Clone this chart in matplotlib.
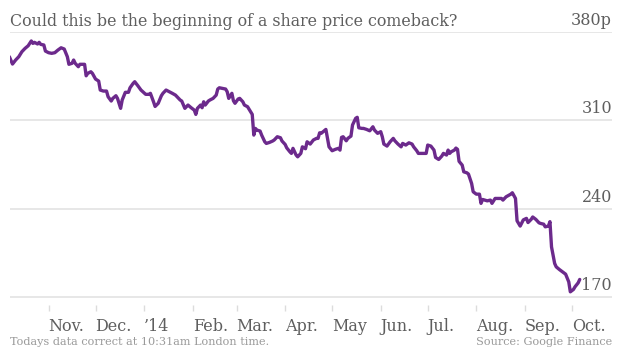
import matplotlib
matplotlib.use("Agg")
import matplotlib.pyplot as plt
import matplotlib.dates as mdates
import matplotlib.transforms as mtransforms
import pandas as pd

# Closing share price (pence), Oct 2013 - Oct 2014
dates = [
    "2013-10-07", "2013-10-09", "2013-10-11", "2013-10-13", "2013-10-15", "2013-10-17",
    "2013-10-19", "2013-10-21", "2013-10-22", "2013-10-23", "2013-10-25", "2013-10-26",
    "2013-10-27", "2013-10-29", "2013-10-30", "2013-11-01", "2013-11-03", "2013-11-05",
    "2013-11-07", "2013-11-09", "2013-11-11", "2013-11-13", "2013-11-14", "2013-11-16",
    "2013-11-17", "2013-11-18", "2013-11-20", "2013-11-21", "2013-11-24", "2013-11-25",
    "2013-11-26", "2013-11-28", "2013-11-29", "2013-12-01", "2013-12-02", "2013-12-03",
    "2013-12-04", "2013-12-06", "2013-12-08", "2013-12-09", "2013-12-11", "2013-12-12",
    "2013-12-14", "2013-12-15", "2013-12-17", "2013-12-18", "2013-12-20", "2013-12-22",
    "2013-12-23", "2013-12-25", "2013-12-26", "2013-12-28", "2013-12-30", "2014-01-02",
    "2014-01-04", "2014-01-05", "2014-01-07", "2014-01-08", "2014-01-10", "2014-01-12",
    "2014-01-13", "2014-01-15", "2014-01-17", "2014-01-19", "2014-01-21", "2014-01-23",
    "2014-01-24", "2014-01-25", "2014-01-27", "2014-01-29", "2014-01-31", "2014-02-02",
    "2014-02-03", "2014-02-04", "2014-02-06", "2014-02-07", "2014-02-08", "2014-02-09",
    "2014-02-11", "2014-02-12", "2014-02-14", "2014-02-16", "2014-02-17", "2014-02-18",
    "2014-02-20", "2014-02-22", "2014-02-23", "2014-02-24", "2014-02-26", "2014-02-27",
    "2014-02-28", "2014-03-02", "2014-03-03", "2014-03-05", "2014-03-06", "2014-03-08",
    "2014-03-10", "2014-03-11", "2014-03-12", "2014-03-13", "2014-03-14", "2014-03-16",
    "2014-03-17", "2014-03-19", "2014-03-20", "2014-03-22", "2014-03-24", "2014-03-25",
    "2014-03-27", "2014-03-29", "2014-03-30", "2014-04-01", "2014-04-02", "2014-04-04",
    "2014-04-05", "2014-04-06", "2014-04-08", "2014-04-09", "2014-04-11", "2014-04-12",
    "2014-04-14", "2014-04-15", "2014-04-17", "2014-04-19", "2014-04-21", "2014-04-22",
    "2014-04-23", "2014-04-24", "2014-04-26", "2014-04-27", "2014-04-29", "2014-05-01",
    "2014-05-03", "2014-05-05", "2014-05-06", "2014-05-07", "2014-05-08", "2014-05-10",
    "2014-05-11", "2014-05-13", "2014-05-14", "2014-05-16", "2014-05-17", "2014-05-18",
    "2014-05-20", "2014-05-21", "2014-05-23", "2014-05-25", "2014-05-27", "2014-05-28",
    "2014-05-30", "2014-06-01", "2014-06-02", "2014-06-03", "2014-06-05", "2014-06-07",
    "2014-06-09", "2014-06-10", "2014-06-12", "2014-06-14", "2014-06-15", "2014-06-17",
    "2014-06-19", "2014-06-21", "2014-06-22", "2014-06-24", "2014-06-25", "2014-06-27",
    "2014-06-30", "2014-07-01", "2014-07-03", "2014-07-05", "2014-07-06", "2014-07-08",
    "2014-07-10", "2014-07-11", "2014-07-13", "2014-07-14", "2014-07-15", "2014-07-16",
    "2014-07-18", "2014-07-19", "2014-07-20", "2014-07-21", "2014-07-23", "2014-07-24",
    "2014-07-26", "2014-07-27", "2014-07-29", "2014-07-30", "2014-08-01", "2014-08-03",
    "2014-08-04", "2014-08-05", "2014-08-08", "2014-08-10", "2014-08-11", "2014-08-13",
    "2014-08-15", "2014-08-17", "2014-08-18", "2014-08-20", "2014-08-23", "2014-08-24",
    "2014-08-26", "2014-08-27", "2014-08-28", "2014-08-29", "2014-08-31", "2014-09-02",
    "2014-09-03", "2014-09-05", "2014-09-06", "2014-09-08", "2014-09-10", "2014-09-11",
    "2014-09-13", "2014-09-14", "2014-09-16", "2014-09-17", "2014-09-18", "2014-09-20",
    "2014-09-21", "2014-09-23", "2014-09-25", "2014-09-27", "2014-09-29", "2014-09-30",
    "2014-10-02", "2014-10-03", "2014-10-05", "2014-10-06",
]

prices = [
    360.4, 354.6, 357.8, 360.4, 364.4, 367.0,
    369.1, 372.9, 371.0, 371.8, 370.5, 371.8,
    370.2, 369.7, 364.9, 363.6, 363.1, 363.6,
    365.7, 367.5, 366.5, 360.4, 354.4, 355.2,
    357.8, 355.2, 352.5, 354.4, 354.4, 345.3,
    347.2, 348.5, 347.2, 342.7, 341.9, 341.1,
    334.0, 333.2, 333.2, 328.7, 325.3, 327.4,
    329.5, 327.4, 319.5, 326.1, 332.2, 332.2,
    335.8, 339.3, 340.6, 337.4, 334.0, 330.6,
    330.6, 331.4, 324.7, 321.0, 323.5, 329.5,
    331.4, 334.0, 332.7, 331.4, 330.0, 327.4,
    326.1, 325.3, 319.5, 322.1, 320.0, 318.1,
    314.7, 319.5, 322.1, 320.0, 324.7, 322.1,
    325.3, 326.1, 327.4, 330.0, 334.8, 335.8,
    335.3, 334.8, 332.7, 327.4, 331.4, 325.5,
    323.5, 326.9, 327.4, 324.7, 322.1, 320.8,
    316.8, 314.7, 298.3, 303.6, 302.3, 301.5,
    298.3, 293.0, 291.7, 292.5, 293.6, 294.4,
    297.0, 296.2, 293.6, 290.9, 288.2, 285.1,
    283.8, 287.8, 282.5, 281.1, 283.8, 289.0,
    287.5, 293.0, 291.2, 294.4, 295.7, 295.7,
    300.1, 299.7, 301.7, 302.8, 289.0, 285.9,
    287.0, 287.8, 286.4, 296.5, 297.0, 293.8,
    295.7, 297.5, 306.3, 311.6, 312.4, 304.1,
    303.6, 303.6, 302.8, 301.7, 304.9, 302.3,
    299.7, 301.0, 297.0, 291.2, 289.6, 293.0,
    295.7, 293.8, 291.2, 289.0, 291.7, 290.4,
    292.2, 291.2, 289.0, 285.9, 283.8, 283.8,
    283.8, 290.4, 289.6, 286.4, 280.6, 279.0,
    281.7, 283.8, 282.5, 286.4, 283.8, 285.1,
    286.4, 288.0, 287.0, 277.5, 274.5, 269.2,
    268.4, 267.4, 260.0, 253.4, 251.5, 251.5,
    244.2, 247.3, 246.2, 246.8, 244.2, 248.1,
    248.1, 248.1, 246.8, 249.4, 251.5, 252.6,
    248.1, 230.4, 228.3, 226.2, 231.1, 232.3,
    229.0, 231.5, 233.4, 231.5, 228.8, 228.3,
    227.7, 225.6, 226.2, 229.7, 209.7, 196.6,
    193.9, 191.8, 189.9, 188.1, 182.0, 174.1,
    176.0, 178.1, 181.2, 183.9,
]

month_starts = ["2013-11-01", "2013-12-01", "2014-01-01", "2014-02-01", "2014-03-01",
                "2014-04-01", "2014-05-01", "2014-06-01", "2014-07-01", "2014-08-01",
                "2014-09-01", "2014-10-01"]
month_labels = ["Nov.", "Dec.", "\u201914", "Feb.", "Mar.", "Apr.", "May", "Jun.",
                "Jul.", "Aug.", "Sep.", "Oct."]

y_ticks = [170, 240, 310, 380]
y_tick_labels = ["170", "240", "310", "380p"]

title = "Could this be the beginning of a share price comeback?"
note = "Todays data correct at 10:31am London time."
source = "Source: Google Finance"

LINE = "#6c2a8c"
GRID = "#e5e5e5"
TEXT = "#5e5e5e"
SERIF = ["DejaVu Serif"]

W, H = 620, 349
fig = plt.figure(figsize=(W / 100, H / 100), dpi=100)
fig.patch.set_facecolor("white")

# plot area in pixel terms
left, right, top, bottom = 10, 612, 32, 311
ax = fig.add_axes([left / W, 1 - bottom / H, (right - left) / W, (bottom - top) / H])

x = pd.to_datetime(dates)
ax.plot(x, prices, color=LINE, lw=2.4, solid_joinstyle="round", solid_capstyle="round",
        zorder=3)

start = pd.Timestamp("2013-11-01")
ax.set_xlim(mdates.date2num(start - pd.Timedelta(days=24.6)),
            mdates.date2num(start + pd.Timedelta(days=359.6)))
px_per_unit = (297 - 32) / 210.0
ax.set_ylim(170 - (bottom - 297) / px_per_unit, 380)

for s in ax.spines.values():
    s.set_visible(False)

ax.set_yticks(y_ticks)
ax.set_yticklabels([])
ax.tick_params(axis="y", length=0)
ax.grid(axis="y", color=GRID, lw=1.3, zorder=0)
ax.grid(axis="x", visible=False)

ax.set_xticks(pd.to_datetime(month_starts))
ax.set_xticklabels(month_labels, family=SERIF, fontsize=11.5, color=TEXT, ha="left")
ax.tick_params(axis="x", direction="in", length=4.5, width=1, color="#dcdcdc", pad=5)

# y labels sit just above their gridlines at the right edge
trans = mtransforms.blended_transform_factory(ax.transAxes, ax.transData)
for v, lab in zip(y_ticks, y_tick_labels):
    ax.text(1.0, v + 2.5, lab, transform=trans, ha="right", va="bottom",
            family=SERIF, fontsize=11.5, color=TEXT)

fig.text(left / W, 1 - 26 / H, title, ha="left", va="baseline",
         family=SERIF, fontsize=11.4, color=TEXT)
fig.text(left / W, 1 - 345 / H, note, ha="left", va="baseline",
         family=SERIF, fontsize=8.1, color="#9a9a9a")
fig.text(right / W, 1 - 345 / H, source, ha="right", va="baseline",
         family=SERIF, fontsize=8.1, color="#9a9a9a")

fig.savefig("out.png", dpi=100, facecolor="white")
